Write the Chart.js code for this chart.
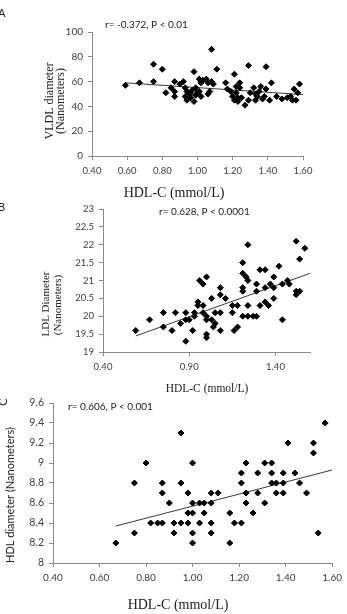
<!DOCTYPE html>
<html>
<head>
<meta charset="utf-8">
<title>HDL-C vs lipoprotein diameters</title>
<script src="https://cdn.jsdelivr.net/npm/chart.js@4.4.0/dist/chart.umd.min.js"></script>
<style>
  html, body { margin: 0; padding: 0; background: #fff; }
  .wrap { position: relative; width: 347px; height: 614px; overflow: hidden; }
  .wrap canvas { position: absolute; left: 0; top: 0; }
</style>
</head>
<body>
<div class="wrap">
  <canvas id="chartA" width="347" height="614"></canvas>
  <canvas id="chartB" width="347" height="614"></canvas>
  <canvas id="chartC" width="347" height="614"></canvas>
</div>
<script>
// ---- Panel A : VLDL diameter vs HDL-C ----
const aHdl = [0.59, 0.67, 0.75, 0.75, 0.80, 0.82, 0.85, 0.87, 0.87, 0.87,
              0.90, 0.92, 0.93, 0.94, 0.95, 0.96, 0.98, 0.98, 1.01, 1.02,
              1.03, 1.01, 1.02, 1.05, 1.06, 1.06, 1.07, 1.08, 1.11, 1.08,
              1.09, 1.16, 1.17, 1.19, 1.20, 1.21, 1.22, 1.23, 1.23, 1.24,
              1.24, 1.27, 1.29, 1.29, 1.30, 1.32, 1.33, 1.34, 1.36, 1.38,
              1.39, 1.39, 1.42, 1.41, 1.45, 1.48, 1.51, 1.53, 1.55, 1.57,
              1.58, 1.56, 1.54, 0.94, 0.96, 0.97, 0.99, 0.99, 1.00, 0.93,
              1.21, 1.22, 1.25, 1.33, 1.35, 1.37];
const aVldl = [57, 59, 74, 60, 70, 51, 55, 60, 52, 48,
               58, 60, 48, 45, 51, 47, 44, 68, 62, 59,
               61, 52, 48, 62, 59, 50, 52, 86, 70, 60,
               58, 59, 54, 52, 48, 66, 51, 47, 44, 55,
               59, 41, 73, 45, 51, 55, 45, 48, 56, 48,
               54, 72, 59, 45, 48, 46, 47, 48, 54, 51,
               58, 45, 45, 52, 50, 53, 49, 55, 51, 55,
               45, 56, 47, 50, 52, 46];
const aTrendX = [0.59, 1.60];
const aTrendY = [59.0, 49.5];
const aXTicks = [0.4, 0.6, 0.8, 1.0, 1.2, 1.4, 1.6];
const aYTicks = [0, 20, 40, 60, 80, 100];

// ---- Panel B : LDL diameter vs HDL-C ----
const bHdl = [0.59, 0.67, 0.75, 0.75, 0.80, 0.82, 0.85, 0.88, 0.88, 0.88,
              0.90, 0.92, 0.93, 0.93, 0.95, 0.95, 0.96, 0.98, 0.98, 0.98,
              1.00, 1.00, 1.00, 1.00, 1.00, 1.03, 1.03, 1.04, 1.05, 1.05,
              1.08, 1.08, 1.08, 1.08, 1.11, 1.15, 1.15, 1.16, 1.18, 1.18,
              1.21, 1.21, 1.21, 1.21, 1.24, 1.23, 1.24, 1.24, 1.21, 1.24,
              1.27, 1.29, 1.29, 1.29, 1.31, 1.34, 1.31, 1.34, 1.34, 1.37,
              1.36, 1.39, 1.39, 1.39, 1.42, 1.44, 1.44, 1.47, 1.48, 1.52,
              1.52, 1.52, 1.54, 1.54, 1.57];
const bLdl = [19.6, 19.9, 20.1, 19.7, 19.6, 20.1, 19.8, 20.1, 19.3, 19.9,
              19.9, 19.6, 20.1, 20.0, 20.4, 20.3, 21.0, 20.9, 20.3, 20.1,
              21.1, 20.0, 19.9, 19.5, 19.4, 20.5, 19.9, 19.7, 20.1, 19.8,
              20.8, 20.6, 20.1, 19.6, 20.5, 20.3, 20.1, 19.6, 20.3, 19.7,
              21.5, 21.2, 20.8, 20.7, 22.0, 21.1, 21.0, 20.3, 20.0, 20.0,
              20.0, 20.0, 20.9, 20.7, 21.3, 21.3, 20.3, 20.4, 20.8, 20.9,
              20.3, 21.1, 20.8, 20.5, 21.4, 19.9, 20.9, 21.0, 20.9, 22.1,
              20.7, 20.6, 21.6, 20.7, 21.9];
const bTrendX = [0.59, 1.60];
const bTrendY = [19.45, 21.2];
const bXTicks = [0.4, 0.9, 1.4];
const bYTicks = [19, 19.5, 20, 20.5, 21, 21.5, 22, 22.5, 23];

// ---- Panel C : HDL diameter vs HDL-C ----
const cHdl = [0.67, 0.75, 0.75, 0.80, 0.82, 0.85, 0.87, 0.87, 0.87, 0.90,
              0.92, 0.92, 0.95, 0.95, 0.95, 0.98, 0.98, 0.98, 1.00, 1.00,
              1.00, 1.00, 1.00, 1.03, 1.03, 1.05, 1.05, 1.08, 1.08, 1.08,
              1.08, 1.11, 1.16, 1.16, 1.18, 1.21, 1.21, 1.21, 1.23, 1.23,
              1.23, 1.26, 1.28, 1.28, 1.31, 1.31, 1.34, 1.34, 1.34, 1.36,
              1.36, 1.39, 1.39, 1.39, 1.41, 1.44, 1.46, 1.49, 1.52, 1.52,
              1.54, 1.57];
const cHdlSize = [8.2, 8.8, 8.3, 9.0, 8.4, 8.4, 8.8, 8.7, 8.4, 8.6,
                  8.4, 8.3, 9.3, 8.8, 8.4, 8.7, 8.5, 8.4, 9.0, 8.6,
                  8.5, 8.3, 8.2, 8.6, 8.4, 8.6, 8.5, 8.7, 8.6, 8.4,
                  8.3, 8.7, 8.5, 8.2, 8.4, 8.9, 8.8, 8.4, 9.0, 8.7,
                  8.6, 8.5, 8.9, 8.7, 9.0, 8.6, 9.0, 8.9, 8.8, 8.8,
                  8.7, 8.9, 8.8, 8.7, 9.2, 8.9, 8.8, 8.7, 9.2, 9.1,
                  8.3, 9.4];
const cTrendX = [0.67, 1.60];
const cTrendY = [8.37, 8.93];
const cXTicks = [0.4, 0.6, 0.8, 1.0, 1.2, 1.4, 1.6];
const cYTicks = [8, 8.2, 8.4, 8.6, 8.8, 9, 9.2, 9.4, 9.6];


Chart.defaults.font.family = "Lato";
Chart.defaults.color = "#404040";

const W = 347, H = 614;
const axisGray = "#8a8a8a";
const serif = "'Liberation Serif', 'DejaVu Serif', serif";

const toPoints = (xs, ys) => xs.map((x, i) => ({ x: x, y: ys[i] }));

//draws panel letters, r / P notes and axis titles
const textPlugin = (items) => ({
    id: "panelText",
    afterDraw(chart) {
        const ctx = chart.ctx;
        items.forEach((t) => {
            ctx.save();
            ctx.font = t.font;
            ctx.fillStyle = t.color || "#222";
            ctx.textAlign = t.align || "center";
            ctx.textBaseline = "middle";
            ctx.translate(t.x, t.y);
            if (t.rotate) ctx.rotate(-Math.PI / 2);
            ctx.fillText(t.text, 0, 0);
            ctx.restore();
        });
    },
});

function makePanel(id, p) {
    const ctx = document.getElementById(id).getContext("2d");
    const yW = 34, xH = 26;

    return new Chart(ctx, {
        type: "scatter",
        data: {
            datasets: [
                {
                    data: toPoints(p.xs, p.ys),
                    pointStyle: "rectRot",
                    pointRadius: 3,
                    backgroundColor: "#000",
                    borderColor: "#000",
                    borderWidth: 1,
                },
                {
                    data: toPoints(p.trendX, p.trendY),
                    showLine: true,
                    pointRadius: 0,
                    borderColor: "#3a3a3a",
                    borderWidth: 1,
                },
            ],
        },
        options: {
            responsive: false,
            animation: false,
            layout: {
                padding: {
                    left: p.area.left - yW,
                    right: W - p.area.right,
                    top: p.area.top,
                    bottom: H - p.area.bottom - xH,
                },
            },
            plugins: {
                legend: { display: false },
                tooltip: { enabled: false },
            },
            scales: {
                x: {
                    type: "linear",
                    min: p.xTicks[0],
                    max: 1.6,
                    afterBuildTicks: (s) => { s.ticks = p.xTicks.map((v) => ({ value: v })); },
                    afterFit: (s) => { s.height = xH; },
                    ticks: {
                        autoSkip: false,
                        maxRotation: 0,
                        padding: 5,
                        font: { size: p.xFont },
                        callback: (v) => v.toFixed(2),
                    },
                    grid: { display: true, drawOnChartArea: false, drawTicks: true, tickLength: 4, color: axisGray },
                    border: { display: true, color: axisGray },
                },
                y: {
                    type: "linear",
                    min: p.yTicks[0],
                    max: p.yTicks[p.yTicks.length - 1],
                    afterBuildTicks: (s) => { s.ticks = p.yTicks.map((v) => ({ value: v })); },
                    afterFit: (s) => { s.width = yW; },
                    ticks: {
                        autoSkip: false,
                        padding: 5,
                        font: { size: p.yFont },
                        callback: (v) => String(v),
                    },
                    grid: { display: true, drawOnChartArea: false, drawTicks: true, tickLength: 4, color: axisGray },
                    border: { display: true, color: axisGray },
                },
            },
        },
        plugins: [textPlugin(p.texts)],
    });
}


makePanel("chartA", {
    xs: aHdl, ys: aVldl, trendX: aTrendX, trendY: aTrendY,
    xTicks: aXTicks, yTicks: aYTicks,
    area: { left: 92, right: 303, top: 32, bottom: 156 },
    xFont: 9.5, yFont: 10,
    texts: [
        { text: "A", x: -2, y: 13, font: "11px Lato", align: "left" },
        { text: "r= -0.372, P < 0.01", x: 105, y: 25, font: "10px Lato", align: "left" },
        { text: "VLDL diameter", x: 50, y: 101, font: "12px " + serif, rotate: true },
        { text: "(Nanometers)", x: 61, y: 101, font: "12px " + serif, rotate: true },
        { text: "HDL-C (mmol/L)", x: 174, y: 193, font: "14px " + serif },
    ],
});

makePanel("chartB", {
    xs: bHdl, ys: bLdl, trendX: bTrendX, trendY: bTrendY,
    xTicks: bXTicks, yTicks: bYTicks,
    area: { left: 103, right: 310, top: 209, bottom: 352 },
    xFont: 9.5, yFont: 9.5,
    texts: [
        { text: "B", x: -2, y: 207, font: "11px Lato", align: "left" },
        { text: "r= 0.628, P < 0.0001", x: 159, y: 212, font: "10px Lato", align: "left" },
        { text: "LDL Diameter", x: 46, y: 304, font: "11px " + serif, rotate: true },
        { text: "(Nanometers)", x: 58, y: 305, font: "11px " + serif, rotate: true },
        { text: "HDL-C (mmol/L)", x: 207, y: 389, font: "11.5px " + serif },
    ],
});

makePanel("chartC", {
    xs: cHdl, ys: cHdlSize, trendX: cTrendX, trendY: cTrendY,
    xTicks: cXTicks, yTicks: cYTicks,
    area: { left: 53, right: 338, top: 403, bottom: 563 },
    xFont: 10, yFont: 10.5,
    texts: [
        { text: "C", x: 3, y: 402, font: "11px Lato", rotate: true },
        { text: "r= 0.606, P < 0.001", x: 68, y: 407, font: "10px Lato", align: "left" },
        { text: "HDL diameter (Nanometers)", x: 10, y: 495, font: "11px Lato", rotate: true },
        { text: "HDL-C (mmol/L)", x: 178, y: 605, font: "14px " + serif },
    ],
});
</script>
</body>
</html>
